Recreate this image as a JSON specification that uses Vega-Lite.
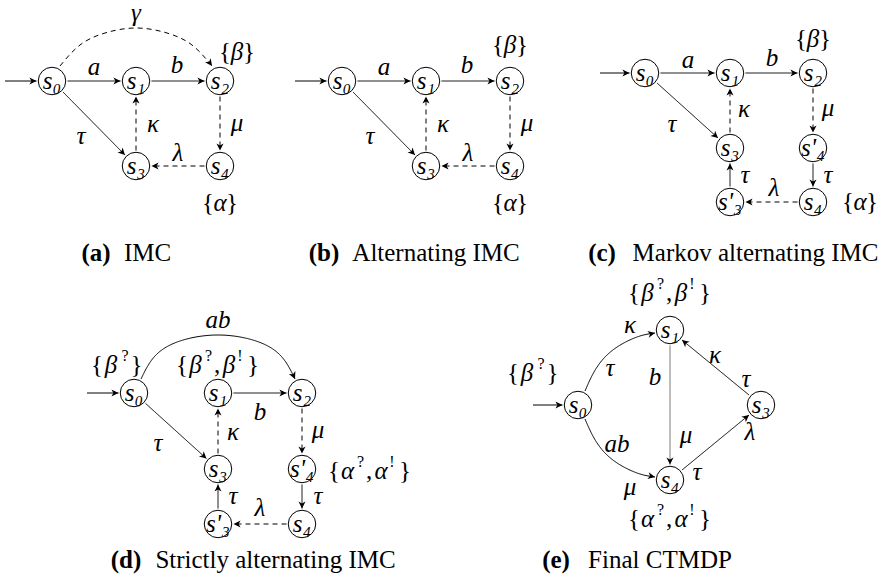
{
"$schema": "https://vega.github.io/schema/vega-lite/v6.json",
"width": 895, "height": 587, "padding": 0,
"autosize": {"type": "fit", "contains": "padding"},
"config": {"view": {"stroke": null}, "font": "Liberation Serif"},
"datasets": {
"nodes": [
{"x":52,"y":81,"t":"s₀"},{"x":136,"y":81,"t":"s₁"},{"x":220,"y":81,"t":"s₂"},{"x":136,"y":166,"t":"s₃"},{"x":220,"y":166,"t":"s₄"},
{"x":342,"y":81,"t":"s₀"},{"x":426,"y":81,"t":"s₁"},{"x":510,"y":81,"t":"s₂"},{"x":426,"y":166,"t":"s₃"},{"x":510,"y":166,"t":"s₄"},
{"x":645,"y":73,"t":"s₀"},{"x":730,"y":73,"t":"s₁"},{"x":813,"y":73,"t":"s₂"},{"x":730,"y":148,"t":"s₃"},{"x":813,"y":148,"t":"s'₄"},{"x":730,"y":202,"t":"s'₃"},{"x":813,"y":202,"t":"s₄"},
{"x":134,"y":393,"t":"s₀"},{"x":218,"y":393,"t":"s₁"},{"x":302,"y":393,"t":"s₂"},{"x":218,"y":469,"t":"s₃"},{"x":302,"y":469,"t":"s'₄"},{"x":218,"y":524,"t":"s'₃"},{"x":302,"y":524,"t":"s₄"},
{"x":578,"y":405,"t":"s₀"},{"x":670,"y":330,"t":"s₁"},{"x":761,"y":405,"t":"s₃"},{"x":670,"y":480,"t":"s₄"}
],
"edges": [
{"x":5,"y":81,"x2":36.5,"y2":81,"d":"solid"},
{"x":67.5,"y":81,"x2":120.5,"y2":81,"d":"solid"},
{"x":151.5,"y":81,"x2":204.5,"y2":81,"d":"solid"},
{"x":63,"y":92,"x2":125,"y2":155,"d":"solid"},
{"x":136,"y":150.5,"x2":136,"y2":96.5,"d":"dashed"},
{"x":220,"y":96.5,"x2":220,"y2":150.5,"d":"dashed"},
{"x":204.5,"y":166,"x2":151.5,"y2":166,"d":"dashed"},
{"x":295,"y":81,"x2":326.5,"y2":81,"d":"solid"},
{"x":357.5,"y":81,"x2":410.5,"y2":81,"d":"solid"},
{"x":441.5,"y":81,"x2":494.5,"y2":81,"d":"solid"},
{"x":353,"y":92,"x2":415,"y2":155,"d":"solid"},
{"x":426,"y":150.5,"x2":426,"y2":96.5,"d":"dashed"},
{"x":510,"y":96.5,"x2":510,"y2":150.5,"d":"dashed"},
{"x":494.5,"y":166,"x2":441.5,"y2":166,"d":"dashed"},
{"x":600,"y":73,"x2":629.5,"y2":73,"d":"solid"},
{"x":660.5,"y":73,"x2":714.5,"y2":73,"d":"solid"},
{"x":745.5,"y":73,"x2":797.5,"y2":73,"d":"solid"},
{"x":657,"y":83,"x2":718,"y2":138,"d":"solid"},
{"x":730,"y":132.5,"x2":730,"y2":88.5,"d":"dashed"},
{"x":813,"y":88.5,"x2":813,"y2":132.5,"d":"dashed"},
{"x":813,"y":163.5,"x2":813,"y2":186.5,"d":"solid"},
{"x":797.5,"y":202,"x2":745.5,"y2":202,"d":"dashed"},
{"x":730,"y":186.5,"x2":730,"y2":163.5,"d":"solid"},
{"x":87,"y":393,"x2":118.5,"y2":393,"d":"solid"},
{"x":145.5,"y":403.4,"x2":206.5,"y2":458.6,"d":"solid"},
{"x":233.5,"y":393,"x2":286.5,"y2":393,"d":"solid"},
{"x":218,"y":453.5,"x2":218,"y2":408.5,"d":"dashed"},
{"x":302,"y":408.5,"x2":302,"y2":453.5,"d":"dashed"},
{"x":302,"y":484.5,"x2":302,"y2":508.5,"d":"solid"},
{"x":286.5,"y":524,"x2":233.5,"y2":524,"d":"dashed"},
{"x":218,"y":508.5,"x2":218,"y2":484.5,"d":"solid"},
{"x":533,"y":405,"x2":562.5,"y2":405,"d":"solid"},
{"x":670,"y":345.5,"x2":670,"y2":464.5,"d":"solid","g":1},
{"x":682,"y":470,"x2":749,"y2":415,"d":"solid"},
{"x":749,"y":395,"x2":682,"y2":340,"d":"solid"}
],
"curves": [
{"id":"gamma","o":0,"x":60,"y":66,"d":"dashed"},{"id":"gamma","o":1,"x":80,"y":45,"d":"dashed"},{"id":"gamma","o":2,"x":105,"y":33,"d":"dashed"},{"id":"gamma","o":3,"x":136,"y":28,"d":"dashed"},{"id":"gamma","o":4,"x":167,"y":33,"d":"dashed"},{"id":"gamma","o":5,"x":192,"y":45,"d":"dashed"},{"id":"gamma","o":6,"x":212,"y":66,"d":"dashed"},
{"id":"ab","o":0,"x":141,"y":379,"d":"solid"},{"id":"ab","o":1,"x":155,"y":356,"d":"solid"},{"id":"ab","o":2,"x":180,"y":341,"d":"solid"},{"id":"ab","o":3,"x":218,"y":335,"d":"solid"},{"id":"ab","o":4,"x":256,"y":341,"d":"solid"},{"id":"ab","o":5,"x":281,"y":356,"d":"solid"},{"id":"ab","o":6,"x":295,"y":379,"d":"solid"},
{"id":"e01","o":0,"x":585,"y":391,"d":"solid"},{"id":"e01","o":1,"x":594,"y":372,"d":"solid"},{"id":"e01","o":2,"x":606,"y":356,"d":"solid"},{"id":"e01","o":3,"x":622,"y":344,"d":"solid"},{"id":"e01","o":4,"x":640,"y":336,"d":"solid"},{"id":"e01","o":5,"x":655,"y":333,"d":"solid"},
{"id":"e04","o":0,"x":585,"y":419,"d":"solid"},{"id":"e04","o":1,"x":594,"y":438,"d":"solid"},{"id":"e04","o":2,"x":606,"y":454,"d":"solid"},{"id":"e04","o":3,"x":622,"y":466,"d":"solid"},{"id":"e04","o":4,"x":640,"y":474,"d":"solid"},{"id":"e04","o":5,"x":655,"y":477,"d":"solid"}
],
"cheads": [
{"x":207,"y":59,"x2":212,"y2":66},
{"x":291,"y":370,"x2":295,"y2":379},
{"x":645,"y":335,"x2":655,"y2":333},
{"x":645,"y":475,"x2":655,"y2":477}
],
"texts": [
{"t":"γ","x":136,"y":13,"k":"m"},{"t":"a","x":94,"y":67,"k":"m"},{"t":"b","x":177,"y":65,"k":"m"},{"t":"τ","x":81,"y":136,"k":"m"},{"t":"κ","x":153,"y":124,"k":"m"},{"t":"μ","x":237,"y":123,"k":"m"},{"t":"λ","x":178,"y":153,"k":"m"},
{"t":"{","x":225,"y":52,"k":"u"},{"t":"β","x":237,"y":52,"k":"m"},{"t":"}","x":249,"y":52,"k":"u"},
{"t":"{","x":208,"y":203,"k":"u"},{"t":"α","x":220,"y":203,"k":"m"},{"t":"}","x":232,"y":203,"k":"u"},
{"t":"a","x":384,"y":67,"k":"m"},{"t":"b","x":467,"y":65,"k":"m"},{"t":"τ","x":370,"y":136,"k":"m"},{"t":"κ","x":443,"y":124,"k":"m"},{"t":"μ","x":527,"y":123,"k":"m"},{"t":"λ","x":468,"y":153,"k":"m"},
{"t":"{","x":498,"y":45,"k":"u"},{"t":"β","x":510,"y":45,"k":"m"},{"t":"}","x":522,"y":45,"k":"u"},
{"t":"{","x":498,"y":203,"k":"u"},{"t":"α","x":510,"y":203,"k":"m"},{"t":"}","x":522,"y":203,"k":"u"},
{"t":"a","x":688,"y":60,"k":"m"},{"t":"b","x":772,"y":58,"k":"m"},{"t":"τ","x":672,"y":124,"k":"m"},{"t":"κ","x":744,"y":109,"k":"m"},{"t":"μ","x":828,"y":108,"k":"m"},{"t":"τ","x":745,"y":175,"k":"m"},{"t":"τ","x":828,"y":175,"k":"m"},{"t":"λ","x":774,"y":188,"k":"m"},
{"t":"{","x":801,"y":39,"k":"u"},{"t":"β","x":813,"y":39,"k":"m"},{"t":"}","x":825,"y":39,"k":"u"},
{"t":"{","x":848,"y":202,"k":"u"},{"t":"α","x":860,"y":202,"k":"m"},{"t":"}","x":872,"y":202,"k":"u"},
{"t":"ab","x":218,"y":320,"k":"m"},{"t":"b","x":260,"y":412,"k":"m"},{"t":"κ","x":233,"y":432,"k":"m"},{"t":"μ","x":318,"y":430,"k":"m"},{"t":"τ","x":233,"y":496,"k":"m"},{"t":"τ","x":318,"y":496,"k":"m"},{"t":"λ","x":260,"y":508,"k":"m"},{"t":"τ","x":158,"y":443,"k":"m"},
{"t":"{","x":97,"y":365,"k":"u"},{"t":"β","x":111,"y":365,"k":"m"},{"t":"?","x":125,"y":356,"k":"s"},{"t":"}","x":136.5,"y":365,"k":"u"},
{"t":"{","x":182,"y":365,"k":"u"},{"t":"β","x":195.5,"y":365,"k":"m"},{"t":"?","x":208.5,"y":356,"k":"s"},{"t":",","x":217,"y":365,"k":"u"},{"t":"β","x":229,"y":365,"k":"m"},{"t":"!","x":240,"y":356,"k":"s"},{"t":"}","x":253,"y":365,"k":"u"},
{"t":"{","x":334,"y":471,"k":"u"},{"t":"α","x":347.5,"y":471,"k":"m"},{"t":"?","x":360.5,"y":462,"k":"s"},{"t":",","x":369,"y":471,"k":"u"},{"t":"α","x":381,"y":471,"k":"m"},{"t":"!","x":392,"y":462,"k":"s"},{"t":"}","x":405,"y":471,"k":"u"},
{"t":"κ","x":630,"y":325,"k":"m"},{"t":"τ","x":610,"y":368,"k":"m"},{"t":"b","x":655,"y":377,"k":"m"},{"t":"μ","x":686,"y":435,"k":"m"},{"t":"κ","x":715,"y":355,"k":"m"},{"t":"τ","x":746,"y":379,"k":"m"},{"t":"λ","x":750,"y":432,"k":"m"},{"t":"ab","x":617,"y":444,"k":"m"},{"t":"μ","x":630,"y":487,"k":"m"},{"t":"τ","x":697,"y":472,"k":"m"},
{"t":"{","x":513,"y":373,"k":"u"},{"t":"β","x":527,"y":373,"k":"m"},{"t":"?","x":541,"y":364,"k":"s"},{"t":"}","x":552.5,"y":373,"k":"u"},
{"t":"{","x":634,"y":293,"k":"u"},{"t":"β","x":647.5,"y":293,"k":"m"},{"t":"?","x":660.5,"y":284,"k":"s"},{"t":",","x":669,"y":293,"k":"u"},{"t":"β","x":681,"y":293,"k":"m"},{"t":"!","x":692,"y":284,"k":"s"},{"t":"}","x":705,"y":293,"k":"u"},
{"t":"{","x":634,"y":519,"k":"u"},{"t":"α","x":647.5,"y":519,"k":"m"},{"t":"?","x":660.5,"y":510,"k":"s"},{"t":",","x":669,"y":519,"k":"u"},{"t":"α","x":681,"y":519,"k":"m"},{"t":"!","x":692,"y":510,"k":"s"},{"t":"}","x":705,"y":519,"k":"u"},
{"t":"(a)","x":96,"y":253,"k":"cb"},{"t":"IMC","x":147.5,"y":253,"k":"c"},
{"t":"(b)","x":324,"y":253,"k":"cb"},{"t":"Alternating IMC","x":436,"y":253,"k":"c"},
{"t":"(c)","x":602,"y":253,"k":"cb"},{"t":"Markov alternating IMC","x":755.5,"y":253,"k":"c"},
{"t":"(d)","x":126,"y":560,"k":"cb"},{"t":"Strictly alternating IMC","x":275.5,"y":560,"k":"c"},
{"t":"(e)","x":556,"y":560,"k":"cb"},{"t":"Final CTMDP","x":660,"y":560,"k":"c"}
]
},
"layer": [
{
"data": {"name": "curves"},
"mark": {"type": "line", "interpolate": "natural", "color": "black", "strokeWidth": 1},
"encoding": {
"x": {"field": "x", "type": "quantitative", "scale": {"domain": [0, 895], "nice": false, "zero": false}, "axis": null},
"y": {"field": "y", "type": "quantitative", "scale": {"domain": [0, 587], "reverse": true, "nice": false, "zero": false}, "axis": null},
"detail": {"field": "id"},
"order": {"field": "o", "type": "quantitative"},
"strokeDash": {"field": "d", "type": "nominal", "scale": {"domain": ["solid", "dashed"], "range": [[1, 0], [5, 4]]}, "legend": null}
}
},
{
"data": {"name": "edges"},
"mark": {"type": "rule", "strokeWidth": 1},
"encoding": {
"x": {"field": "x", "type": "quantitative"},
"y": {"field": "y", "type": "quantitative"},
"x2": {"field": "x2"},
"y2": {"field": "y2"},
"color": {"condition": {"test": "datum.g == 1", "value": "#6a6a6a"}, "value": "black"},
"strokeDash": {"field": "d", "type": "nominal", "scale": {"domain": ["solid", "dashed"], "range": [[1, 0], [5, 4]]}, "legend": null}
}
},
{
"data": {"name": "edges"},
"transform": [{"calculate": "atan2(datum.y2 - datum.y, datum.x2 - datum.x) * 180 / PI", "as": "ang"}],
"mark": {"type": "point", "shape": "M0,0L-1,-0.5L-0.72,0L-1,0.5Z", "filled": true, "size": 200, "strokeWidth": 0, "opacity": 1},
"encoding": {
"x": {"field": "x2", "type": "quantitative"},
"y": {"field": "y2", "type": "quantitative"},
"angle": {"field": "ang", "type": "quantitative", "scale": null},
"color": {"value": "black"}
}
},
{
"data": {"name": "cheads"},
"transform": [{"calculate": "atan2(datum.y2 - datum.y, datum.x2 - datum.x) * 180 / PI", "as": "ang"}],
"mark": {"type": "point", "shape": "M0,0L-1,-0.5L-0.72,0L-1,0.5Z", "filled": true, "size": 200, "strokeWidth": 0, "opacity": 1},
"encoding": {
"x": {"field": "x2", "type": "quantitative"},
"y": {"field": "y2", "type": "quantitative"},
"angle": {"field": "ang", "type": "quantitative", "scale": null},
"color": {"value": "black"}
}
},
{
"data": {"name": "nodes"},
"mark": {"type": "point", "shape": "circle", "filled": true, "fill": "white", "stroke": "black", "strokeWidth": 1, "size": 755, "opacity": 1},
"encoding": {
"x": {"field": "x", "type": "quantitative"},
"y": {"field": "y", "type": "quantitative"}
}
},
{
"data": {"name": "nodes"},
"mark": {"type": "text", "font": "Liberation Serif", "fontStyle": "italic", "fontSize": 25, "align": "center", "baseline": "middle"},
"encoding": {
"x": {"field": "x", "type": "quantitative"},
"y": {"field": "y", "type": "quantitative"},
"text": {"field": "t"},
"color": {"value": "black"}
}
},
{
"data": {"name": "texts"},
"transform": [{"filter": "datum.k == 'm'"}],
"mark": {"type": "text", "font": "Liberation Serif", "fontStyle": "italic", "fontSize": 25, "align": "center", "baseline": "middle"},
"encoding": {
"x": {"field": "x", "type": "quantitative"},
"y": {"field": "y", "type": "quantitative"},
"text": {"field": "t"},
"color": {"value": "black"}
}
},
{
"data": {"name": "texts"},
"transform": [{"filter": "datum.k == 'u'"}],
"mark": {"type": "text", "font": "Liberation Serif", "fontSize": 25, "align": "center", "baseline": "middle"},
"encoding": {
"x": {"field": "x", "type": "quantitative"},
"y": {"field": "y", "type": "quantitative"},
"text": {"field": "t"},
"color": {"value": "black"}
}
},
{
"data": {"name": "texts"},
"transform": [{"filter": "datum.k == 's'"}],
"mark": {"type": "text", "font": "Liberation Serif", "fontSize": 16, "align": "center", "baseline": "middle"},
"encoding": {
"x": {"field": "x", "type": "quantitative"},
"y": {"field": "y", "type": "quantitative"},
"text": {"field": "t"},
"color": {"value": "black"}
}
},
{
"data": {"name": "texts"},
"transform": [{"filter": "datum.k == 'cb'"}],
"mark": {"type": "text", "font": "Liberation Serif", "fontWeight": "bold", "fontSize": 25, "align": "center", "baseline": "middle"},
"encoding": {
"x": {"field": "x", "type": "quantitative"},
"y": {"field": "y", "type": "quantitative"},
"text": {"field": "t"},
"color": {"value": "black"}
}
},
{
"data": {"name": "texts"},
"transform": [{"filter": "datum.k == 'c'"}],
"mark": {"type": "text", "font": "Liberation Serif", "fontSize": 25, "align": "center", "baseline": "middle"},
"encoding": {
"x": {"field": "x", "type": "quantitative"},
"y": {"field": "y", "type": "quantitative"},
"text": {"field": "t"},
"color": {"value": "black"}
}
}
]
}
